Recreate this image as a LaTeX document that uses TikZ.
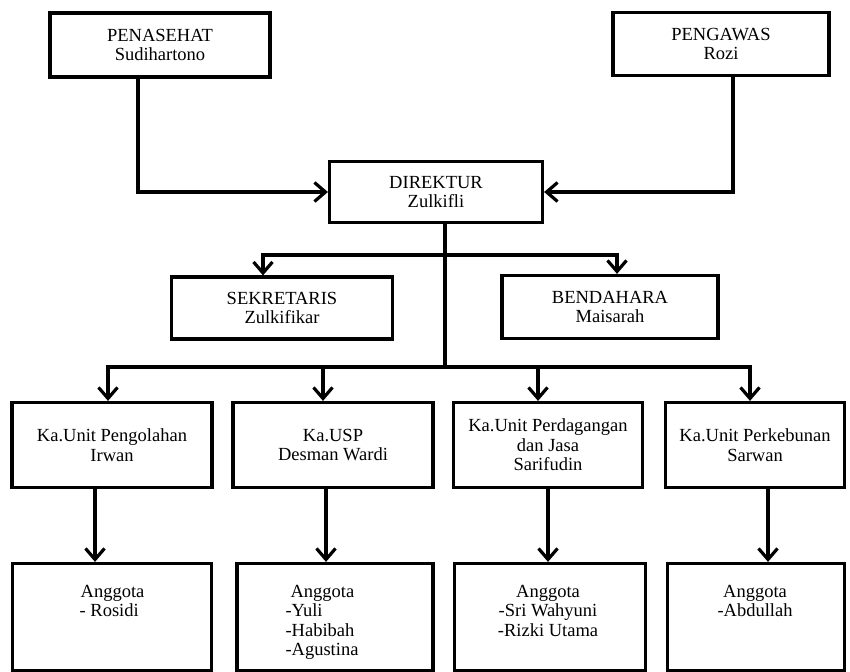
\documentclass[tikz,border=0pt]{standalone}
\usepackage{fontspec}
\setmainfont{Liberation Serif}
\usetikzlibrary{arrows.meta}
\begin{document}
\begin{tikzpicture}[x=1pt,y=-1pt,
  font=\fontsize{18.5}{19.5}\selectfont,
  box/.style={draw, line width=3.2pt, align=center, inner sep=0pt},
  conn/.style={line width=3.2pt},
  arr/.style={conn, -{Straight Barb[length=11pt,width=19pt]}}]
  \useasboundingbox (0,0) rectangle (850,671);
  % top level
  \node[box, minimum width=220, minimum height=64] (P) at (160,45) {PENASEHAT\\Sudihartono};
  \node[box, minimum width=216, minimum height=63] (W) at (721,44) {PENGAWAS\\Rozi};
  \node[box, minimum width=213, minimum height=61] (D) at (436,192) {DIREKTUR\\Zulkifli};
  \node[box, minimum width=221, minimum height=62] (S) at (282,308) {SEKRETARIS\\Zulkifikar};
  \node[box, minimum width=216, minimum height=63] (B) at (610,307) {BENDAHARA\\Maisarah};
  % units
  \node[box, minimum width=200, minimum height=85] (U1) at (112,445) {Ka.Unit Pengolahan\\Irwan};
  \node[box, minimum width=200, minimum height=85] (U2) at (333,445) {Ka.USP\\Desman Wardi};
  \node[box, minimum width=189, minimum height=85] (U3) at (548,445) {Ka.Unit Perdagangan\\dan Jasa\\Sarifudin};
  \node[box, minimum width=179, minimum height=85] (U4) at (755,445) {Ka.Unit Perkebunan\\Sarwan};
  % members
  \node[box, minimum width=199, minimum height=107] (A1) at (112,617) {};
  \node[box, minimum width=196, minimum height=107] (A2) at (335,617) {};
  \node[box, minimum width=191, minimum height=107] (A3) at (550,617) {};
  \node[box, minimum width=177, minimum height=107] (A4) at (756,617) {};
  \node[anchor=north, align=left, inner sep=0pt] (T1) at (112,585) {\hspace*{1pt}Anggota\\- Rosidi};
  \node[anchor=north, align=left, inner sep=0pt] (T2) at (322,585) {\hspace*{5pt}Anggota\\-Yuli\\-Habibah\\-Agustina};
  \node[anchor=north, align=center, inner sep=0pt] (T3) at (548,585) {Anggota\\-Sri Wahyuni\\-Rizki Utama};
  \node[anchor=north, align=center, inner sep=0pt] (T4) at (755,585) {Anggota\\-Abdullah};
  \coordinate (J1) at (445,255);
  \coordinate (J2) at (445,367);
  % connectors
  \draw[arr] ([xshift=-22]P.south) |- (D.west);
  \draw[arr] ([xshift=12]W.south) |- (D.east);
  \draw[conn] ([xshift=9]D.south) -- (J2);
  \draw[arr] (J1) -| ([xshift=-19]S.north);
  \draw[arr] (J1) -| ([xshift=7]B.north);
  \draw[arr] (J2) -| ([xshift=-4]U1.north);
  \draw[arr] (J2) -| ([xshift=-10]U2.north);
  \draw[arr] (J2) -| ([xshift=-10]U3.north);
  \draw[arr] (J2) -| ([xshift=-5]U4.north);
  \draw[arr] ([xshift=-17]U1.south) -- ([xshift=-17]A1.north);
  \draw[arr] ([xshift=-7]U2.south) -- ([xshift=-7]U2.south |- A2.north);
  \draw[arr] (U3.south) -- ([xshift=-2]A3.north);
  \draw[arr] ([xshift=13]U4.south) -- ([xshift=12]A4.north);
\end{tikzpicture}
\end{document}
